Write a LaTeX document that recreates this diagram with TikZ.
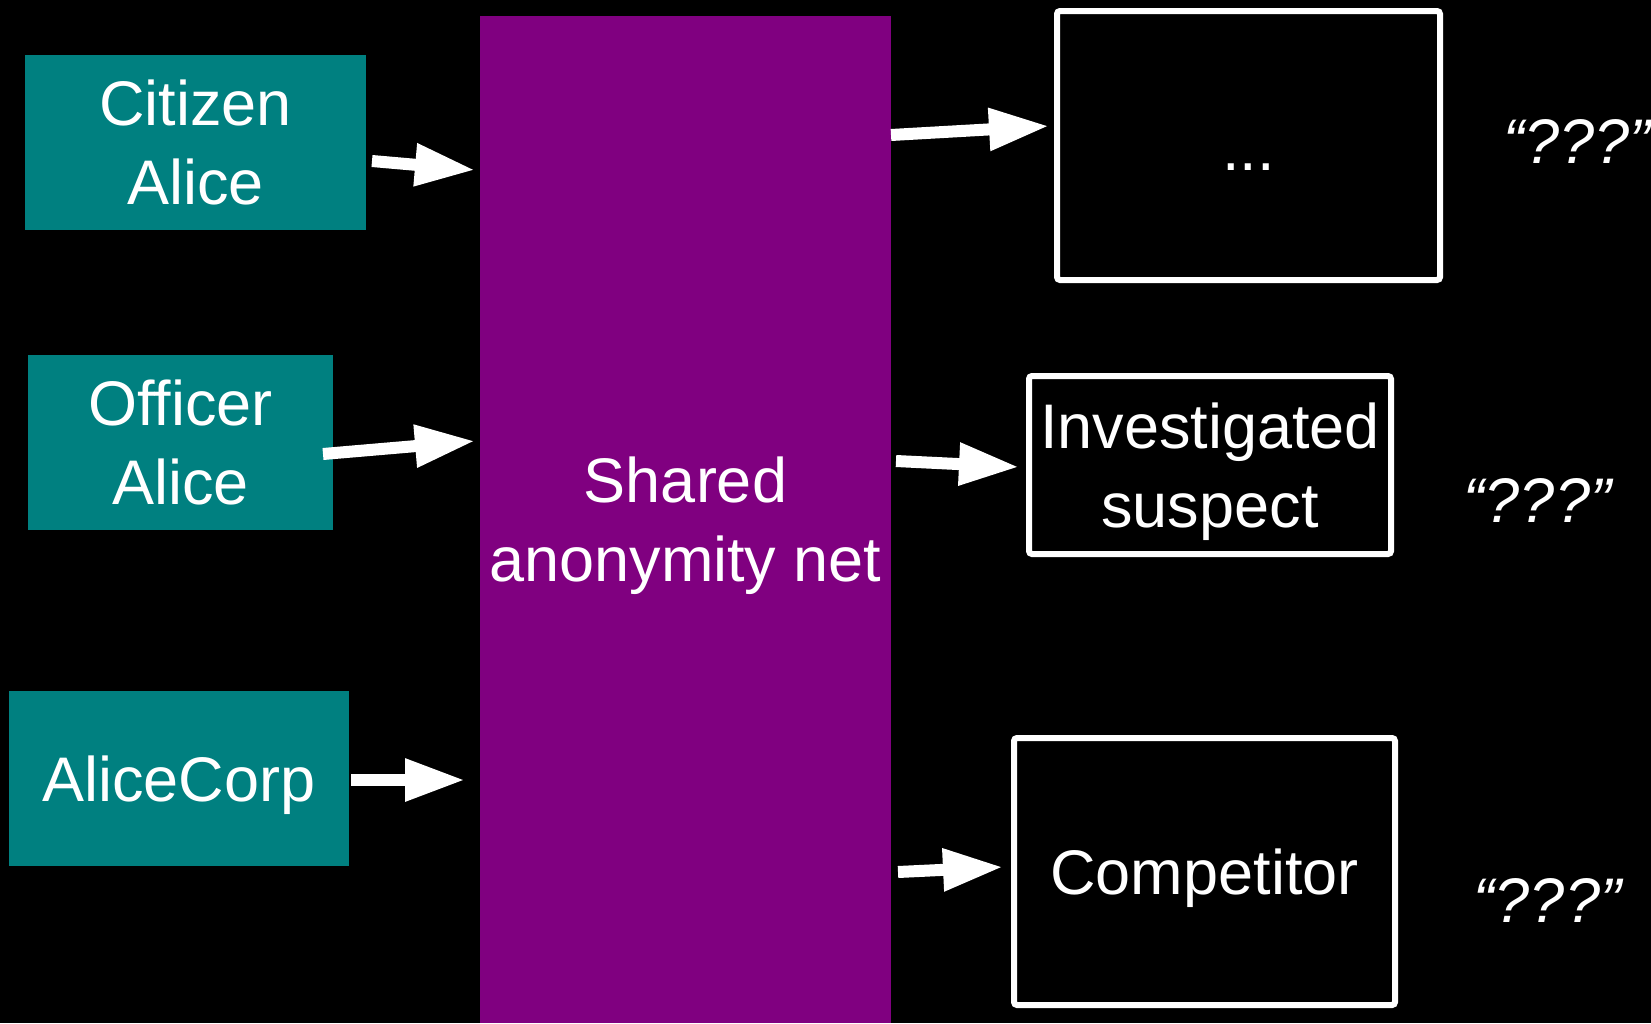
\documentclass[tikz,border=0pt]{standalone}
\usepackage{fontspec}
\setmainfont{Liberation Sans}
\usetikzlibrary{arrows.meta,calc}
\definecolor{tealbox}{HTML}{008080}
\definecolor{purplenet}{HTML}{800080}
\begin{document}
\begin{tikzpicture}[x=1pt,y=-1pt,
  every node/.style={font=\fontsize{63}{79}\selectfont, text=white, inner sep=0pt, outer sep=0pt},
  srcbox/.style={fill=tealbox, minimum height=175pt, align=center, text depth=0pt},
  dstbox/.style={draw=white, line width=6pt, fill=black, rounded corners=3pt, align=center, text depth=0pt},
  netbox/.style={fill=purplenet, align=center, text depth=0pt},
  quest/.style={font=\fontsize{63}{79}\selectfont\itshape, anchor=base},
  arr/.style={draw=white, line width=12pt, -{Triangle[length=60pt,width=40pt]}}
]
\path[use as bounding box, fill=black] (0,0) rectangle (1651,1023);

\node[netbox, minimum width=411pt, minimum height=1007pt] (net) at (685.5,519.5) {Shared\\anonymity net};

\node[srcbox, minimum width=341pt] (ca) at (195.5,142.5) {Citizen\\Alice};
\node[srcbox, minimum width=305pt] (oa) at (180.5,442.5) {Officer\\Alice};
\node[srcbox, minimum width=340pt] (ac) at (179,778.5) {AliceCorp};

\node[dstbox, minimum width=383pt, minimum height=269pt, text height=50pt] (d1) at (1248.5,145.5) {...};
\node[dstbox, minimum width=362pt, minimum height=178pt] (d2) at (1210,465) {Investigated\\suspect};
\node[dstbox, minimum width=381pt, minimum height=267pt] (d3) at (1204.5,871.5) {Competitor};

\node[quest] (q1) at (1577,163) {“???”};
\node[quest] (q2) at (1537.5,522) {“???”};
\node[quest] (q3) at (1547.5,922) {“???”};

\draw[arr] ($(ca.east)+(6,18.5)$) -- ($(net.north west)+(-5,154)$);
\draw[arr] ($(oa.east)+(-10,11.5)$) -- ($(net.north west)+(-5,425)$);
\draw[arr] ($(ac.east)+(2,1.5)$) -- ($(net.north west)+(-15,764)$);
\draw[arr] ($(net.north east)+(0,119)$) -- ($(d1.west)+(-8,-19.5)$);
\draw[arr] ($(net.north east)+(5,445)$) -- ($(d2.west)+(-10,2)$);
\draw[arr] ($(net.north east)+(7,856)$) -- ($(d3.west)+(-11,-4.5)$);
\end{tikzpicture}
\end{document}
